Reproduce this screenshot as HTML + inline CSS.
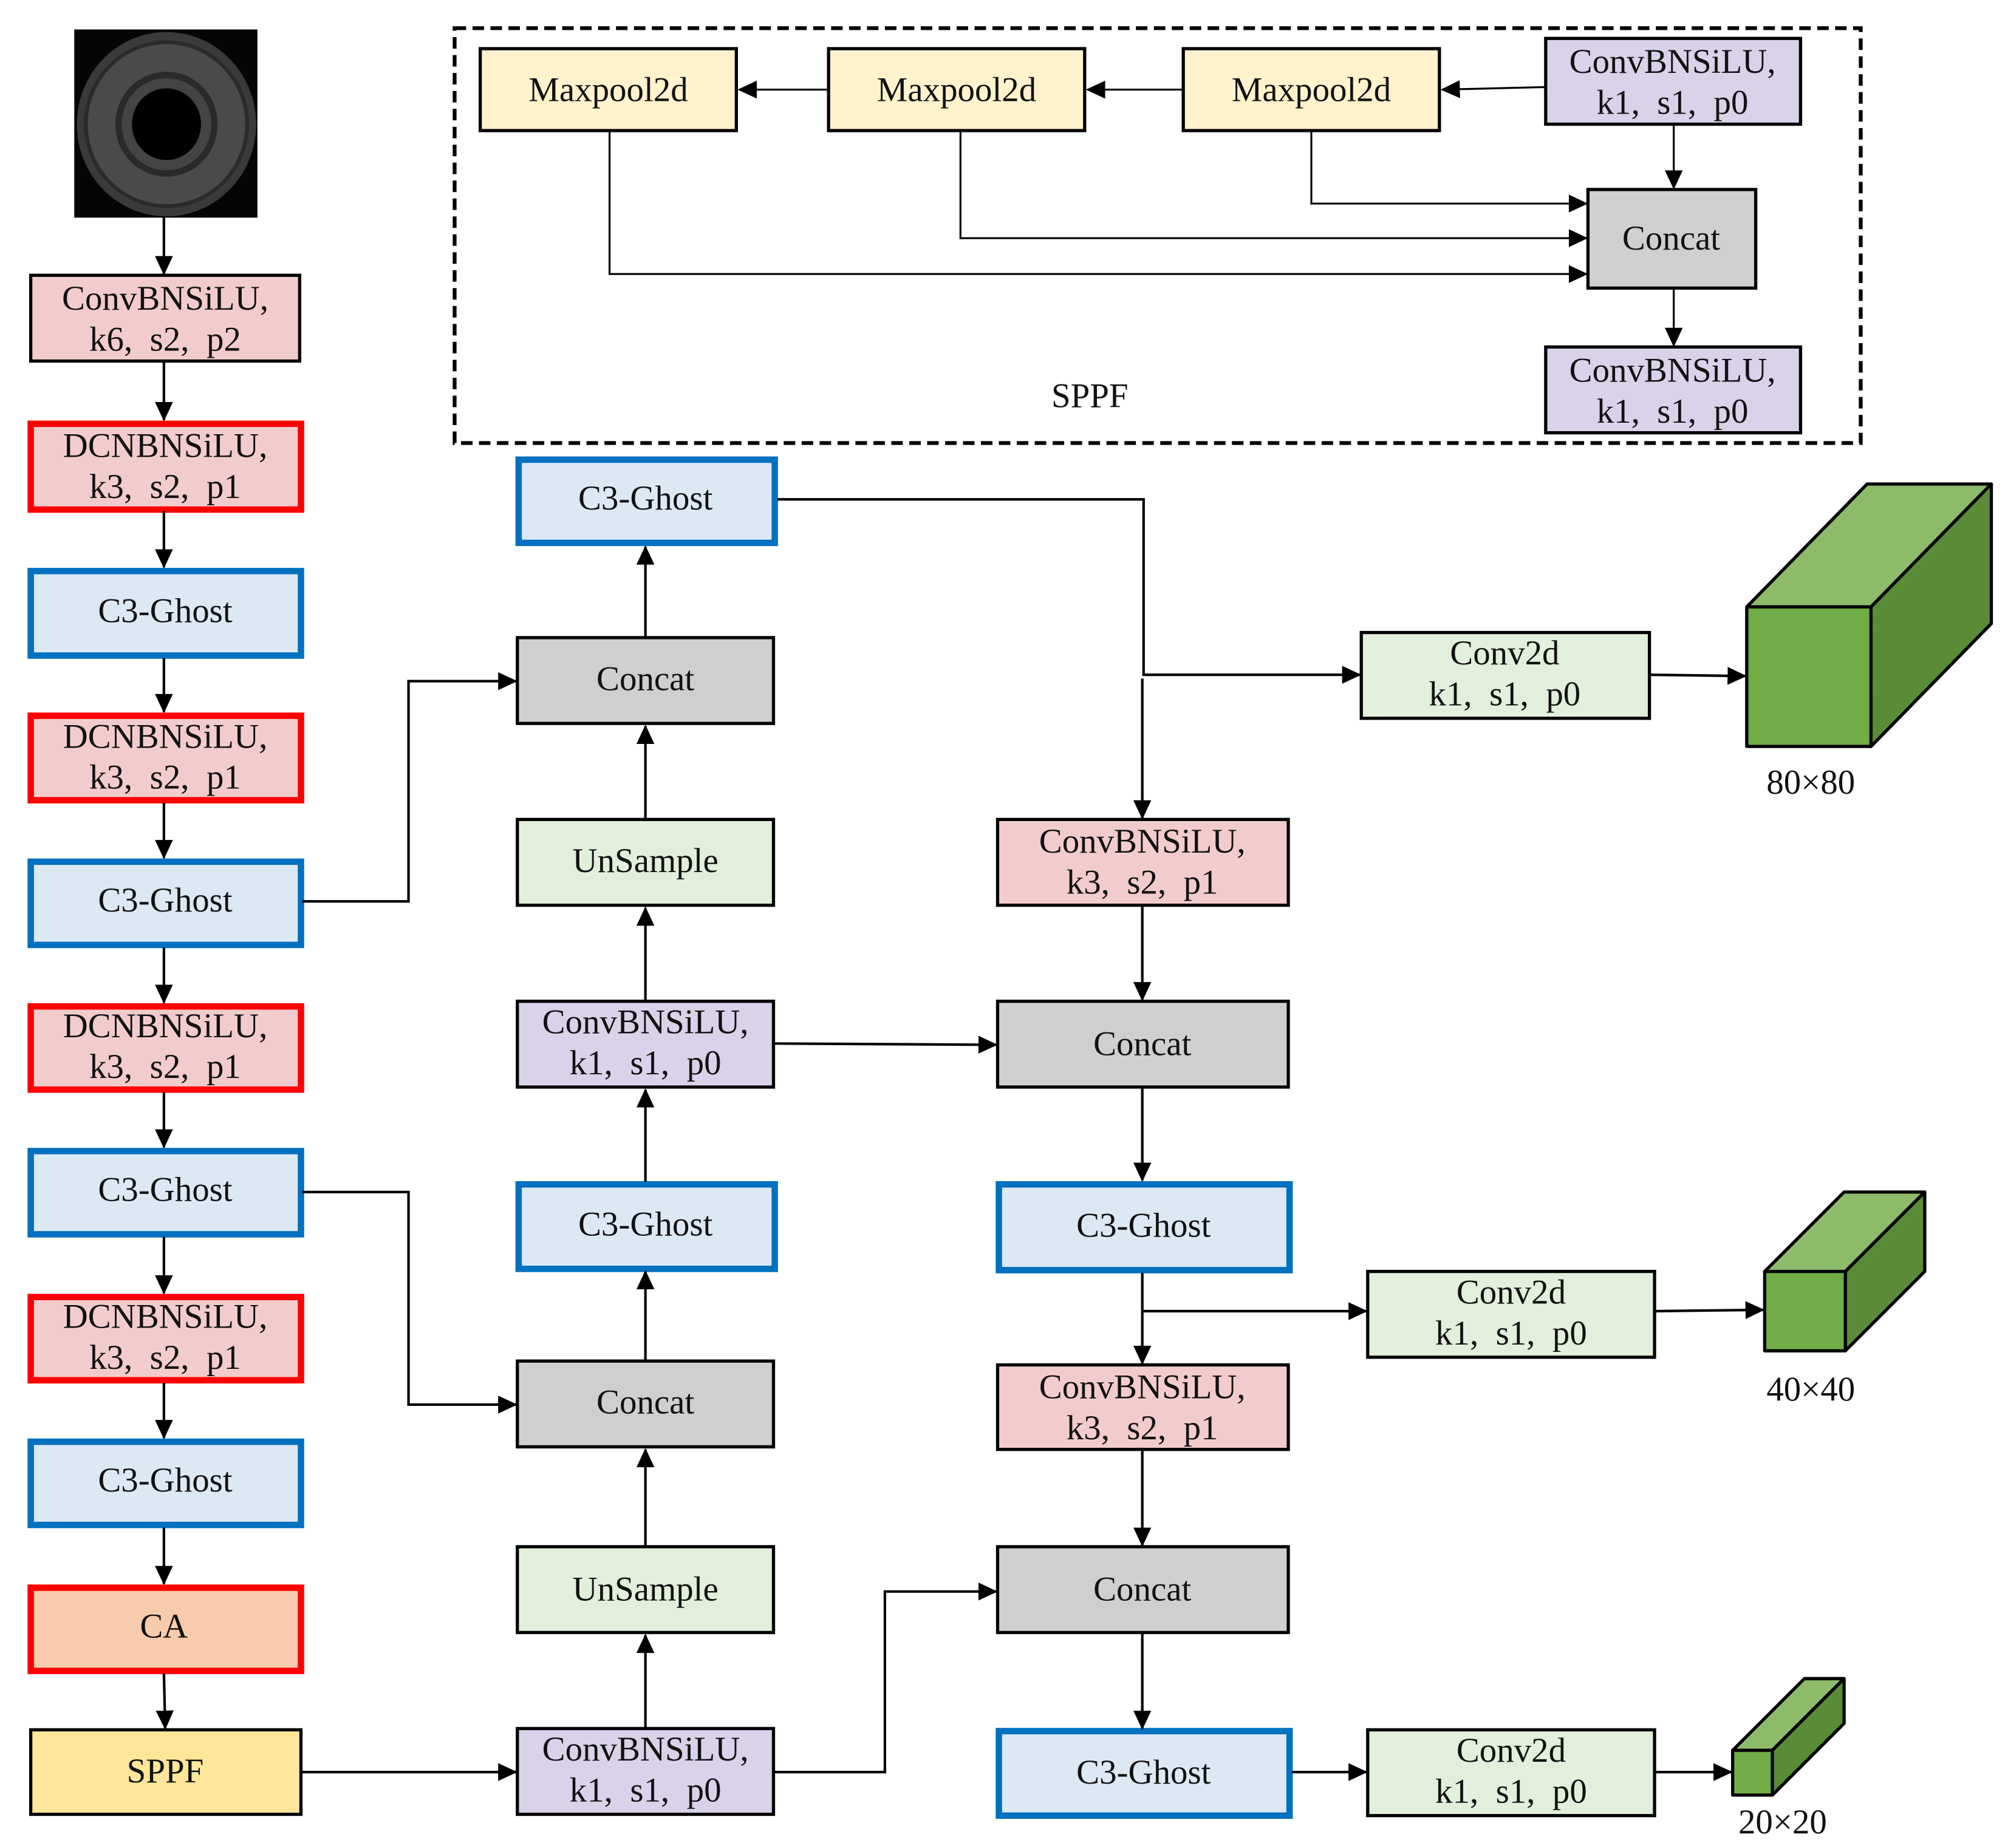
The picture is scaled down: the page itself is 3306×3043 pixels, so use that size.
<!DOCTYPE html>
<html><head><meta charset="utf-8"><style>html,body{margin:0;padding:0;background:#fff}svg{display:block}text{font-family:"Liberation Serif",serif;font-size:27px;fill:#111;text-anchor:middle;white-space:pre}</style></head><body>
<svg width="3306" height="3043" viewBox="0 0 1568 1443.3" preserveAspectRatio="none" xmlns="http://www.w3.org/2000/svg" xml:space="preserve">
<defs><marker id="a" markerWidth="15" markerHeight="14" refX="14" refY="7" orient="auto" markerUnits="userSpaceOnUse"><path d="M0,0 L15,7 L0,14 z" fill="#000"/></marker></defs>
<rect x="58" y="23" width="143" height="147" fill="#050505"/>
<ellipse cx="130" cy="97" rx="70" ry="72" fill="#3a3a3a"/>
<ellipse cx="130" cy="97" rx="63" ry="64" fill="#4a4a4a" stroke="#2a2a2a" stroke-width="3"/>
<ellipse cx="130" cy="97" rx="40" ry="41" fill="#2a2a2a"/>
<ellipse cx="130" cy="97" rx="35" ry="36" fill="#444"/>
<ellipse cx="130" cy="97" rx="27" ry="28" fill="#000"/>
<rect x="355" y="22" width="1098" height="324" fill="none" stroke="#000" stroke-width="3" stroke-dasharray="9,5"/>
<g stroke="#000" stroke-width="2.5">
<rect x="375" y="38" width="200" height="64" fill="#fff2cc"/>
<rect x="647" y="38" width="200" height="64" fill="#fff2cc"/>
<rect x="924" y="38" width="200" height="64" fill="#fff2cc"/>
<rect x="1207" y="30" width="199" height="67" fill="#d9d2e9"/>
<rect x="1240" y="148" width="131" height="77" fill="#d0cece"/>
<rect x="1207" y="271" width="199" height="67" fill="#d9d2e9"/>
</g>
<g stroke="#000" stroke-width="1.5" fill="none" marker-end="url(#a)">
<path d="M1207 68 L1126 70"/><path d="M924 70 L849 70"/><path d="M647 70 L577 70"/>
<path d="M1307 97 L1307 147"/><path d="M1307 225 L1307 270"/>
<path d="M1024 102 L1024 159 L1239 159"/><path d="M750 102 L750 186 L1239 186"/><path d="M476 102 L476 214 L1239 214"/>
</g>
<text x="475" y="79">Maxpool2d</text><text x="747" y="79">Maxpool2d</text><text x="1024" y="79">Maxpool2d</text>
<text x="1306" y="57">ConvBNSiLU,</text><text x="1306" y="89">k1,  s1,  p0</text>
<text x="1305" y="195">Concat</text>
<text x="1306" y="298">ConvBNSiLU,</text><text x="1306" y="330">k1,  s1,  p0</text>
<text x="851" y="318">SPPF</text>
<g stroke-width="2.5" stroke="#000">
<rect x="24" y="215" width="210" height="67" fill="#f2cccc"/>
<rect x="24" y="1351" width="211" height="66" fill="#ffe699"/>
</g>
<g stroke="#ff0000" stroke-width="5">
<rect x="24" y="331" width="211" height="67" fill="#f2cccc"/>
<rect x="24" y="559" width="211" height="66" fill="#f2cccc"/>
<rect x="24" y="786" width="211" height="65" fill="#f2cccc"/>
<rect x="24" y="1013" width="211" height="65" fill="#f2cccc"/>
<rect x="24" y="1240" width="211" height="65" fill="#f8cbad"/>
</g>
<g stroke="#0070c0" stroke-width="5" fill="#dde8f5">
<rect x="24" y="446" width="211" height="66"/>
<rect x="24" y="673" width="211" height="65"/>
<rect x="24" y="899" width="211" height="65"/>
<rect x="24" y="1126" width="211" height="65"/>
<rect x="405" y="359" width="200" height="65"/>
<rect x="405" y="925" width="200" height="66"/>
<rect x="780" y="925" width="227" height="67"/>
<rect x="780" y="1352" width="227" height="66"/>
</g>
<text x="129" y="242">ConvBNSiLU,</text><text x="129" y="274">k6,  s2,  p2</text>
<text x="129" y="357">DCNBNSiLU,</text><text x="129" y="389">k3,  s2,  p1</text>
<text x="129" y="486">C3-Ghost</text>
<text x="129" y="584">DCNBNSiLU,</text><text x="129" y="616">k3,  s2,  p1</text>
<text x="129" y="712">C3-Ghost</text>
<text x="129" y="810">DCNBNSiLU,</text><text x="129" y="842">k3,  s2,  p1</text>
<text x="129" y="938">C3-Ghost</text>
<text x="129" y="1037">DCNBNSiLU,</text><text x="129" y="1069">k3,  s2,  p1</text>
<text x="129" y="1165">C3-Ghost</text>
<text x="128" y="1279">CA</text>
<text x="129" y="1392">SPPF</text>
<g stroke="#000" stroke-width="2.5">
<rect x="404" y="498" width="200" height="67" fill="#d0cece"/>
<rect x="404" y="640" width="200" height="67" fill="#e2efda"/>
<rect x="404" y="782" width="200" height="67" fill="#d9d2e9"/>
<rect x="404" y="1063" width="200" height="67" fill="#d0cece"/>
<rect x="404" y="1208" width="200" height="67" fill="#e2efda"/>
<rect x="404" y="1350" width="200" height="67" fill="#d9d2e9"/>
<rect x="779" y="640" width="227" height="67" fill="#f2cccc"/>
<rect x="779" y="782" width="227" height="67" fill="#d0cece"/>
<rect x="779" y="1066" width="227" height="66" fill="#f2cccc"/>
<rect x="779" y="1208" width="227" height="67" fill="#d0cece"/>
<rect x="1063" y="494" width="225" height="67" fill="#e2efda"/>
<rect x="1068" y="993" width="224" height="67" fill="#e2efda"/>
<rect x="1068" y="1351" width="224" height="67" fill="#e2efda"/>
</g>
<text x="504" y="398">C3-Ghost</text>
<text x="504" y="539">Concat</text>
<text x="504" y="681">UnSample</text>
<text x="504" y="807">ConvBNSiLU,</text><text x="504" y="839">k1,  s1,  p0</text>
<text x="504" y="965">C3-Ghost</text>
<text x="504" y="1104">Concat</text>
<text x="504" y="1250">UnSample</text>
<text x="504" y="1375">ConvBNSiLU,</text><text x="504" y="1407">k1,  s1,  p0</text>
<text x="892" y="666">ConvBNSiLU,</text><text x="892" y="698">k3,  s2,  p1</text>
<text x="892" y="824">Concat</text>
<text x="893" y="966">C3-Ghost</text>
<text x="892" y="1092">ConvBNSiLU,</text><text x="892" y="1124">k3,  s2,  p1</text>
<text x="892" y="1250">Concat</text>
<text x="893" y="1393">C3-Ghost</text>
<text x="1175" y="519">Conv2d</text><text x="1175" y="551">k1,  s1,  p0</text>
<text x="1180" y="1018">Conv2d</text><text x="1180" y="1050">k1,  s1,  p0</text>
<text x="1180" y="1376">Conv2d</text><text x="1180" y="1408">k1,  s1,  p0</text>
<text x="1414" y="620">80×80</text><text x="1414" y="1094">40×40</text><text x="1392" y="1432">20×20</text>
<g stroke="#000" stroke-width="2.5" stroke-linejoin="round">
<path d="M1364 474 L1458 378 L1555 378 L1461 474 z" fill="#8dbb6a"/>
<path d="M1461 474 L1555 378 L1555 487 L1461 583 z" fill="#5a8c38"/>
<rect x="1364" y="474" width="97" height="109" fill="#70ad47"/>
<path d="M1378 993 L1440 931 L1503 931 L1441 993 z" fill="#8dbb6a"/>
<path d="M1441 993 L1503 931 L1503 993 L1441 1055 z" fill="#5a8c38"/>
<rect x="1378" y="993" width="63" height="62" fill="#70ad47"/>
<path d="M1353 1367 L1409 1311 L1440 1311 L1384 1367 z" fill="#8dbb6a"/>
<path d="M1384 1367 L1440 1311 L1440 1346 L1384 1402 z" fill="#5a8c38"/>
<rect x="1353" y="1367" width="31" height="35" fill="#70ad47"/>
</g>
<g stroke="#000" stroke-width="2" fill="none" marker-end="url(#a)">
<path d="M128 170 L128 214"/><path d="M128 282 L128 328"/><path d="M128 399 L128 443"/><path d="M128 514 L128 556"/>
<path d="M128 627 L128 670"/><path d="M128 740 L128 783"/><path d="M128 853 L128 896"/><path d="M128 966 L128 1010"/>
<path d="M128 1080 L128 1123"/><path d="M128 1193 L128 1237"/><path d="M128 1307 L129 1350"/>
<path d="M236 704 L319 704 L319 532 L403 532"/>
<path d="M236 931 L319 931 L319 1097 L403 1097"/>
<path d="M236 1384 L403 1384"/>
<path d="M504 1350 L504 1277"/><path d="M504 1208 L504 1132"/><path d="M504 1063 L504 993"/><path d="M504 923 L504 851"/>
<path d="M504 782 L504 709"/><path d="M504 640 L504 567"/><path d="M504 498 L504 427"/>
<path d="M605 1384 L691 1384 L691 1243 L778 1243"/>
<path d="M605 815 L778 816"/>
<path d="M607 390 L893 390 L893 527 L1062 527"/>
<path d="M892 530 L892 639"/>
<path d="M892 707 L892 781"/><path d="M892 849 L892 922"/><path d="M892 994 L892 1065"/>
<path d="M892 1024 L1067 1024"/>
<path d="M892 1132 L892 1207"/><path d="M892 1275 L892 1350"/>
<path d="M1009 1384 L1067 1384"/>
<path d="M1288 527 L1363 528"/><path d="M1293 1024 L1377 1023"/><path d="M1293 1384 L1352 1384"/>
</g>
</svg>
</body></html>
